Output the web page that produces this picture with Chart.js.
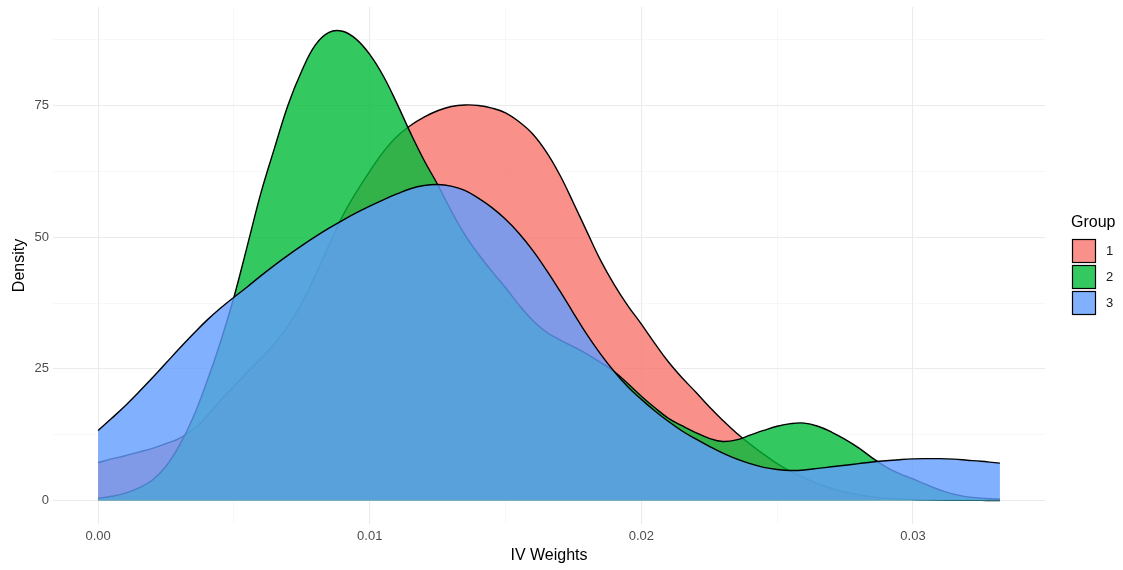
<!DOCTYPE html>
<html>
<head>
<meta charset="utf-8">
<script src="https://cdn.jsdelivr.net/npm/chart.js@4"></script>
<style>
  html, body { margin: 0; padding: 0; background: #fff; }
  #wrap { width: 1123px; height: 570px; position: relative; }
  canvas { display: block; }
</style>
</head>
<body>
<div id="wrap"><canvas id="chart" width="1123" height="570"></canvas></div>
<script>
// x positions of the density estimates (IV Weights)
const ivWeights = [
  0.0000, 0.0005, 0.0010, 0.0015, 0.0020, 0.0025, 0.0030, 0.0035, 0.0040, 0.0045,
  0.0050, 0.0055, 0.0060, 0.0065, 0.0070, 0.0075, 0.0080, 0.0085, 0.0090, 0.0095,
  0.0100, 0.0105, 0.0110, 0.0115, 0.0120, 0.0125, 0.0130, 0.0135, 0.0140, 0.0145,
  0.0150, 0.0155, 0.0160, 0.0165, 0.0170, 0.0175, 0.0180, 0.0185, 0.0190, 0.0195,
  0.0200, 0.0205, 0.0210, 0.0215, 0.0220, 0.0225, 0.0230, 0.0235, 0.0240, 0.0245,
  0.0250, 0.0255, 0.0260, 0.0265, 0.0270, 0.0275, 0.0280, 0.0285, 0.0290, 0.0295,
  0.0300, 0.0305, 0.0310, 0.0315, 0.0320, 0.0325, 0.0330, 0.0332
];

// densidad por grupo
const group1 = [
  7.2, 7.9, 8.5, 9.2, 9.9, 10.8, 11.8, 13.5, 16.0, 19.0,
  21.7, 24.4, 27.0, 29.8, 33.2, 37.5, 42.8, 48.5, 54.0, 58.5,
  62.5, 66.2, 69.1, 71.2, 72.8, 74.0, 74.8, 75.1, 75.0, 74.5,
  73.6, 71.9, 69.6, 66.2, 61.8, 56.5, 51.0, 45.6, 41.0, 37.0,
  33.5, 29.8, 26.3, 23.3, 20.6, 17.8, 15.2, 12.8, 10.7, 8.8,
  7.0, 5.5, 4.3, 3.2, 2.3, 1.6, 1.1, 0.7, 0.45, 0.3,
  0.2, 0.12, 0.08, 0.05, 0.03, 0.02, 0.01, 0.01
];
const group2 = [
  0.4, 0.8, 1.4, 2.4, 3.9, 6.5, 10.5, 15.8, 22.5, 30.0,
  38.6, 48.5, 58.5, 67.0, 75.2, 81.6, 86.5, 88.9, 89.1, 87.6,
  84.7, 80.6, 75.4, 69.8, 64.6, 60.0, 55.0, 50.5, 46.8, 43.5,
  40.4, 37.1, 34.2, 32.0, 30.5, 29.2, 27.8, 26.2, 24.5, 22.2,
  19.8, 17.6, 15.6, 14.2, 12.9, 11.8, 11.2, 11.5, 12.4, 13.3,
  14.1, 14.6, 14.7, 14.1, 13.0, 11.6, 10.0, 8.1, 6.4, 5.1,
  4.1, 3.0, 2.0, 1.2, 0.7, 0.45, 0.3, 0.25
];
const group3 = [
  13.3, 15.6, 18.0, 20.6, 23.3, 26.1, 28.9, 31.6, 34.2, 36.5,
  38.6, 40.6, 42.7, 44.7, 46.6, 48.4, 50.1, 51.7, 53.2, 54.6,
  55.9, 57.1, 58.2, 59.2, 59.8, 60.0, 59.7, 58.9, 57.4, 55.6,
  53.4, 50.7, 47.5, 43.8, 39.8, 35.6, 31.5, 27.8, 24.5, 21.6,
  19.2, 17.0, 15.0, 13.2, 11.7, 10.3, 9.0, 7.9, 7.0, 6.3,
  5.9, 5.7, 5.8, 6.1, 6.4, 6.7, 7.0, 7.3, 7.55, 7.75,
  7.9, 7.95, 7.95, 7.85, 7.65, 7.45, 7.2, 7.1
];

const groupNames = ['1', '2', '3'];
const groupColors = ['rgba(248,118,109,0.8)', 'rgba(0,186,56,0.8)', 'rgba(97,156,255,0.8)'];

// ticks
const xMajorTicks = [0, 0.01, 0.02, 0.03];
const xMinorTicks = [0.005, 0.015, 0.025];
const yMajorTicks = [0, 25, 50, 75];
const yMinorTicks = [12.5, 37.5, 62.5, 87.5];

const FONT = '"Liberation Sans", Arial, Helvetica, sans-serif';

function esMayor(v, lista) {
  return lista.some(t => Math.abs(t - v) < 1e-9);
}

function armarSerie(valores) {
  return ivWeights.map((x, i) => ({ x: x, y: valores[i] }));
}

const series = [group1, group2, group3];
const datasets = series.map((vals, i) => ({
  label: groupNames[i],
  data: armarSerie(vals),
  borderColor: '#000000',
  borderWidth: 1.4,
  backgroundColor: groupColors[i],
  fill: 'origin',
  pointRadius: 0,
  tension: 0.4,
  order: series.length - i   // grupo 1 abajo, grupo 3 arriba
}));

// leyenda estilo ggplot
const leyendaPlugin = {
  id: 'leyendaGrupo',
  afterDraw(chart) {
    const ctx = chart.ctx;
    ctx.save();
    ctx.fillStyle = '#000';
    ctx.font = '16px ' + FONT;
    ctx.textBaseline = 'middle';
    ctx.textAlign = 'left';
    ctx.fillText('Group', 1071, 223);
    groupNames.forEach((nombre, i) => {
      const y = 239 + i * 26;
      ctx.fillStyle = '#fff';
      ctx.fillRect(1072, y, 24, 24);
      ctx.fillStyle = groupColors[i];
      ctx.fillRect(1072, y, 24, 24);
      ctx.strokeStyle = '#000';
      ctx.lineWidth = 1.2;
      ctx.strokeRect(1072.5, y + 0.5, 23, 23);
      ctx.fillStyle = '#1a1a1a';
      ctx.font = '13px ' + FONT;
      ctx.fillText(nombre, 1106, y + 12.5);
    });
    ctx.restore();
  }
};

const fondoBlanco = {
  id: 'fondoBlanco',
  beforeDraw(chart) {
    const ctx = chart.ctx;
    ctx.save();
    ctx.fillStyle = '#fff';
    ctx.fillRect(0, 0, chart.width, chart.height);
    ctx.restore();
  }
};

new Chart(document.getElementById('chart'), {
  type: 'line',
  data: { datasets: datasets },
  options: {
    responsive: false,
    animation: false,
    devicePixelRatio: 1,
    layout: { padding: { top: 7, right: 78, bottom: 0, left: 0 } },
    plugins: {
      legend: { display: false },
      tooltip: { enabled: false }
    },
    scales: {
      x: {
        type: 'linear',
        min: -0.00166,
        max: 0.03486,
        border: { display: false },
        afterBuildTicks(scale) {
          scale.ticks = xMajorTicks.concat(xMinorTicks).sort((a, b) => a - b).map(v => ({ value: v }));
        },
        afterFit(scale) {
          scale.height = 46;
          scale.paddingLeft = 0;
          scale.paddingRight = 0;
        },
        grid: {
          drawTicks: false,
          color: ctx => esMayor(ctx.tick.value, xMajorTicks) ? '#ebebeb' : '#f2f2f2',
          lineWidth: ctx => esMayor(ctx.tick.value, xMajorTicks) ? 1.1 : 0.6
        },
        ticks: {
          autoSkip: false,
          maxRotation: 0,
          padding: 5,
          color: '#4d4d4d',
          font: { family: FONT, size: 13 },
          callback: v => esMayor(v, xMajorTicks) ? v.toFixed(2) : ''
        },
        title: {
          display: true,
          text: 'IV Weights',
          color: '#000',
          font: { family: FONT, size: 16 },
          padding: { top: 0, bottom: 5 }
        }
      },
      y: {
        type: 'linear',
        min: -4.46,
        max: 93.7,
        border: { display: false },
        afterBuildTicks(scale) {
          scale.ticks = yMajorTicks.concat(yMinorTicks).sort((a, b) => a - b).map(v => ({ value: v }));
        },
        afterFit(scale) {
          scale.width = 53;
          scale.paddingTop = 0;
          scale.paddingBottom = 0;
        },
        grid: {
          drawTicks: false,
          color: ctx => esMayor(ctx.tick.value, yMajorTicks) ? '#ebebeb' : '#f2f2f2',
          lineWidth: ctx => esMayor(ctx.tick.value, yMajorTicks) ? 1.1 : 0.6
        },
        ticks: {
          autoSkip: false,
          padding: 4,
          color: '#4d4d4d',
          font: { family: FONT, size: 13 },
          callback: v => esMayor(v, yMajorTicks) ? String(v) : ''
        },
        title: {
          display: true,
          text: 'Density',
          color: '#000',
          font: { family: FONT, size: 16 },
          padding: { top: 10, bottom: 0 }
        }
      }
    }
  },
  plugins: [fondoBlanco, leyendaPlugin]
});
</script>
</body>
</html>
